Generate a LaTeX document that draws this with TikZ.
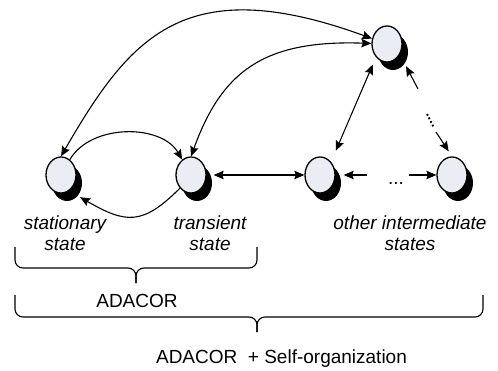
\documentclass[tikz,border=0pt]{standalone}
\usepackage{fontspec}
\setmainfont{Liberation Sans}
\usepackage{tikz}
\usetikzlibrary{
    positioning,
    arrows.meta,
    shapes.geometric,
    shadows
}
\definecolor{stateFill}{RGB}{234, 237, 244}

\begin{document}
\begin{tikzpicture}[x=1pt, y=1pt, >={Stealth[length=10pt, width=8.5pt, inset=1.5pt]},
        state/.style={ellipse, draw, line width=1.3pt, fill=stateFill,
            minimum width=30pt, minimum height=36pt, inner sep=0pt,
            drop shadow={shadow xshift=6pt, shadow yshift=-8pt, fill=black, opacity=1}},
        conn/.style={line width=1.1pt},
        txt/.style={font=\fontsize{19}{20.5}\selectfont},
        lbl/.style={align=center, font=\fontsize{19}{20.5}\selectfont\itshape}]
        \useasboundingbox (0,0) rectangle (498,370);

        \node[state] (S) at (61,195) {};
        \node[state] (T) at (191,195) {};
        \node[state] (M) at (320,195) {};
        \node[state] (R) at (452,195) {};
        \node[state] (N) at (387,326) {};

        % left pair
        \draw[conn, ->] (S.60) to[out=60, in=120, looseness=0.95] (T.120);
        \draw[conn, ->] (T.south west) to[out=225, in=-30, looseness=1.35] ([shift={(8pt,-9pt)}]S.south east);

        % arcs to the upper state
        \draw[conn, <->] (S.north) to[out=60, in=160, out looseness=1.07, in looseness=1.53] (N.160);
        \draw[conn, <->] (T.north) to[out=70, in=178, out looseness=1.07, in looseness=1.31] (N.178);

        % straight links
        \draw[conn, <->] ([xshift=7pt]T.east) -- (M.west);
        \draw[conn, <->, shorten <=8pt, shorten >=12pt] (N.south west) -- (M.north east);
        \coordinate (m1) at (367,195);
        \draw[conn, ->] (m1) -- ([xshift=8pt]M.east);
        \node[txt, anchor=base] (dots) at (396,185) {...};
        \coordinate (r1) at (409,195);
        \draw[conn, ->] (r1) -- (R.west);

        % N to R, dotted
        \coordinate (d1) at (418,281);
        \coordinate (d2) at (427,256);
        \coordinate (d3) at (434,242);
        \coordinate (d4) at (436,238);
        \draw[conn, ->] (d1) -- ([shift={(8pt,-9pt)}]N.south east);
        \draw[line width=1.8pt, dash pattern=on 1.8pt off 2.2pt] (d2) -- (d3);
        \draw[conn, ->, shorten >=6pt] (d4) -- (R.north);

        \node[lbl] (lblS) at (65,137) {stationary\\state};
        \node[lbl] (lblT) at (210,137) {transient\\state};
        \node[lbl] (lblO) at (410,137) {other intermediate\\states};

        % braces
        \draw[conn, rounded corners=8pt] (15,123) -- (15,102) -- (136,102) -- (136,87);
        \draw[conn, rounded corners=8pt] (257,123) -- (257,102) -- (136,102) -- (136,87);
        \draw[conn, rounded corners=8pt] (15,75) -- (15,53) -- (257,53) -- (257,38);
        \draw[conn, rounded corners=8pt] (483,75) -- (483,53) -- (257,53) -- (257,38);

        \node[txt, anchor=base] (adacor) at (137,63) {ADACOR};
        \node[txt, anchor=base] (selforg) at (281.5,7) {ADACOR\ \ + Self-organization};
    \end{tikzpicture}
\end{document}
